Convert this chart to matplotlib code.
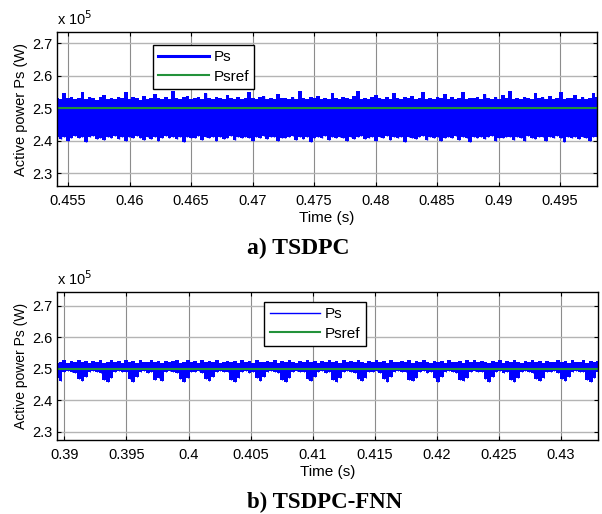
import numpy as np
import matplotlib
matplotlib.use("Agg")
import matplotlib.pyplot as plt

plt.rcParams['font.family'] = ['Liberation Sans', 'DejaVu Sans']

# ---- data (units of 1e5 W) ----
psref_a = 2.50
hi_a = [2.532, 2.528, 2.545, 2.530, 2.533, 2.527, 2.531, 2.548, 2.529, 2.534,
        2.530, 2.526, 2.533, 2.540, 2.529, 2.532, 2.527, 2.535, 2.531, 2.550,
        2.528, 2.533, 2.530, 2.526, 2.537, 2.529, 2.532, 2.544, 2.530, 2.527,
        2.534, 2.529, 2.552, 2.531, 2.528, 2.533, 2.538, 2.527, 2.530, 2.535,
        2.529, 2.546, 2.531, 2.527, 2.533, 2.530, 2.528, 2.541, 2.532, 2.529,
        2.534, 2.527, 2.531, 2.549, 2.530, 2.528, 2.533, 2.536, 2.529, 2.531,
        2.527, 2.543, 2.532, 2.530, 2.528, 2.534, 2.529, 2.553, 2.531, 2.527,
        2.533, 2.530, 2.538, 2.528, 2.532, 2.529, 2.545, 2.531, 2.527, 2.534,
        2.530, 2.528, 2.536, 2.551, 2.529, 2.532, 2.527, 2.533, 2.540, 2.530,
        2.528, 2.534, 2.529, 2.547, 2.531, 2.527, 2.533, 2.530, 2.537, 2.528,
        2.532, 2.550, 2.529, 2.531, 2.527, 2.534, 2.530, 2.542, 2.528, 2.533,
        2.529, 2.531, 2.548, 2.527, 2.532, 2.530, 2.535, 2.528, 2.544, 2.531,
        2.529, 2.533, 2.527, 2.539, 2.530, 2.552, 2.528, 2.532, 2.529, 2.534,
        2.531, 2.527, 2.546, 2.530, 2.533, 2.528, 2.536, 2.529, 2.531, 2.549,
        2.527, 2.532, 2.530, 2.541, 2.528, 2.534, 2.529, 2.531, 2.545, 2.533]
lo_a = [2.410, 2.405, 2.412, 2.398, 2.409, 2.414, 2.407, 2.411, 2.396, 2.410,
        2.413, 2.406, 2.409, 2.401, 2.412, 2.408, 2.415, 2.404, 2.410, 2.397,
        2.411, 2.407, 2.413, 2.409, 2.402, 2.410, 2.406, 2.412, 2.399, 2.409,
        2.414, 2.408, 2.411, 2.404, 2.410, 2.396, 2.412, 2.407, 2.409, 2.413,
        2.403, 2.410, 2.408, 2.412, 2.398, 2.411, 2.406, 2.409, 2.414, 2.402,
        2.410, 2.407, 2.412, 2.409, 2.397, 2.411, 2.408, 2.413, 2.405, 2.410,
        2.412, 2.399, 2.409, 2.407, 2.411, 2.414, 2.403, 2.410, 2.406, 2.412,
        2.396, 2.409, 2.411, 2.408, 2.413, 2.401, 2.410, 2.407, 2.412, 2.409,
        2.398, 2.411, 2.406, 2.410, 2.414, 2.404, 2.409, 2.412, 2.397, 2.410,
        2.408, 2.413, 2.402, 2.411, 2.407, 2.410, 2.395, 2.412, 2.409, 2.406,
        2.411, 2.414, 2.403, 2.410, 2.408, 2.412, 2.399, 2.409, 2.411, 2.407,
        2.413, 2.401, 2.410, 2.408, 2.396, 2.412, 2.409, 2.411, 2.405, 2.410,
        2.413, 2.398, 2.409, 2.407, 2.412, 2.410, 2.403, 2.411, 2.408, 2.397,
        2.413, 2.409, 2.406, 2.411, 2.412, 2.400, 2.410, 2.407, 2.414, 2.409,
        2.396, 2.411, 2.408, 2.412, 2.404, 2.410, 2.409, 2.398, 2.412, 2.410]

psref_b = 2.50
hi_b = [2.518, 2.522, 2.526, 2.519, 2.524, 2.521, 2.527, 2.520, 2.523, 2.517,
        2.525, 2.521, 2.528, 2.519, 2.522, 2.526, 2.520, 2.524, 2.518, 2.527,
        2.521, 2.523, 2.519, 2.526, 2.522, 2.520, 2.528, 2.521, 2.524, 2.518,
        2.525, 2.520, 2.523, 2.527, 2.519, 2.522, 2.526, 2.521, 2.524, 2.518,
        2.527, 2.520, 2.523, 2.521, 2.528, 2.519, 2.522, 2.525, 2.520, 2.524,
        2.518, 2.526, 2.521, 2.523, 2.519, 2.527, 2.522, 2.520, 2.525, 2.521,
        2.528, 2.519, 2.523, 2.520, 2.526, 2.522, 2.518, 2.524, 2.521, 2.527,
        2.520, 2.523, 2.519, 2.525, 2.522, 2.528, 2.520, 2.524, 2.518, 2.526,
        2.521, 2.523, 2.520, 2.527, 2.522, 2.519, 2.525, 2.521, 2.528, 2.520,
        2.523, 2.518, 2.526, 2.522, 2.520, 2.524, 2.521, 2.527, 2.519, 2.523,
        2.520, 2.528, 2.522, 2.519, 2.525, 2.521, 2.524, 2.518, 2.527, 2.522,
        2.520, 2.523, 2.519, 2.526, 2.521, 2.528, 2.520, 2.524, 2.522, 2.518,
        2.525, 2.521, 2.527, 2.519, 2.523, 2.520, 2.526, 2.522, 2.518, 2.524,
        2.521, 2.528, 2.520, 2.523, 2.519, 2.525, 2.522, 2.520, 2.527, 2.521,
        2.524, 2.518, 2.526, 2.522, 2.520, 2.528, 2.519, 2.523, 2.521, 2.525]
lo_b = [2.470, 2.462, 2.488, 2.492, 2.490, 2.486, 2.468, 2.460, 2.473, 2.489,
        2.493, 2.491, 2.487, 2.465, 2.459, 2.471, 2.490, 2.492, 2.488, 2.491,
        2.467, 2.458, 2.475, 2.489, 2.493, 2.486, 2.490, 2.463, 2.470, 2.461,
        2.488, 2.492, 2.490, 2.487, 2.466, 2.459, 2.472, 2.491, 2.489, 2.493,
        2.485, 2.468, 2.461, 2.474, 2.490, 2.492, 2.488, 2.491, 2.464, 2.457,
        2.470, 2.489, 2.493, 2.487, 2.490, 2.469, 2.460, 2.473, 2.488, 2.492,
        2.491, 2.486, 2.465, 2.458, 2.471, 2.490, 2.493, 2.488, 2.491, 2.467,
        2.462, 2.475, 2.489, 2.492, 2.486, 2.490, 2.463, 2.459, 2.470, 2.488,
        2.493, 2.490, 2.487, 2.466, 2.461, 2.472, 2.491, 2.489, 2.492, 2.485,
        2.468, 2.458, 2.474, 2.490, 2.493, 2.488, 2.491, 2.464, 2.460, 2.470,
        2.489, 2.492, 2.487, 2.490, 2.469, 2.457, 2.473, 2.488, 2.493, 2.491,
        2.486, 2.465, 2.461, 2.471, 2.490, 2.492, 2.488, 2.491, 2.467, 2.459,
        2.475, 2.489, 2.493, 2.486, 2.490, 2.463, 2.458, 2.470, 2.488, 2.492,
        2.490, 2.487, 2.466, 2.460, 2.472, 2.491, 2.489, 2.493, 2.485, 2.468,
        2.461, 2.474, 2.490, 2.492, 2.488, 2.491, 2.464, 2.459, 2.470, 2.489]

xlim_a = (0.4541, 0.4980)
xticks_a = [0.455, 0.46, 0.465, 0.47, 0.475, 0.48, 0.485, 0.49, 0.495]
xlim_b = (0.3894, 0.4330)
xticks_b = [0.39, 0.395, 0.4, 0.405, 0.41, 0.415, 0.42, 0.425, 0.43]
yticks = [2.3, 2.4, 2.5, 2.6, 2.7]
titles = ["a) TSDPC", "b) TSDPC-FNN"]

BLUE = '#0000ff'
GREEN = '#23923a'

fig = plt.figure(figsize=(6.02, 5.14), dpi=100)

panels = [
    dict(pos=[57 / 602, 1 - 186 / 514, 540 / 602, 154 / 514], hi=hi_a, lo=lo_a, ref=psref_a,
         xl=xlim_a, xt=xticks_a, yl=(2.26, 2.734), lw=1.0, leglw=2.2, leg=(0.178, 0.916),
         ylfs=10.5),
    dict(pos=[57 / 602, 1 - 440 / 514, 541 / 602, 148.3 / 514], hi=hi_b, lo=lo_b, ref=psref_b,
         xl=xlim_b, xt=xticks_b, yl=(2.274, 2.744), lw=0.7, leglw=1.0, leg=(0.383, 0.930),
         ylfs=10),
]

for p in panels:
    ax = fig.add_axes(p['pos'])
    xl = p['xl']
    t = np.linspace(xl[0], xl[1], len(p['hi']))
    ax.fill_between(t, p['lo'], p['hi'], step='mid', color=BLUE, lw=0)
    ax.vlines(t, p['lo'], p['hi'], color=BLUE, lw=p['lw'])
    ax.plot([], [], color=BLUE, lw=p['leglw'], label='Ps')
    ax.axhline(p['ref'], color=GREEN, lw=1.5, label='Psref')
    ax.set_xlim(*xl)
    ax.set_ylim(*p['yl'])
    ax.set_xticks(p['xt'])
    ax.set_xticklabels([f"{v:g}" for v in p['xt']])
    ax.set_yticks(yticks)
    ax.set_yticklabels([f"{v:g}" for v in yticks])
    ax.grid(True, axis='y', color='#b4b4b4', lw=1.0)
    ax.grid(True, axis='x', color='#8c8c8c', lw=0.8)
    ax.set_axisbelow(True)
    ax.tick_params(direction='in', top=True, right=True, labelsize=10.5, length=3, width=0.8)
    ax.tick_params(axis='x', pad=6)
    for s in ax.spines.values():
        s.set_linewidth(1.0)
    ax.set_ylabel('Active power Ps (W)', fontsize=p['ylfs'], labelpad=3)
    ax.set_xlabel('Time (s)', fontsize=11, labelpad=2)
    ax.text(0.0, 1.025, r'x 10$^5$', transform=ax.transAxes, fontsize=10.5, ha='left',
            va='bottom')
    leg = ax.legend(loc='upper left', bbox_to_anchor=p['leg'], fontsize=11,
                    frameon=True, fancybox=False, edgecolor='black', framealpha=1,
                    borderpad=0.35, handlelength=3.3, handletextpad=0.3, labelspacing=0.35,
                    borderaxespad=0)
    leg.get_frame().set_linewidth(1.0)

fig.text(247 / 602, 1 - 254 / 514, titles[0], ha='left', va='baseline', fontsize=17,
         fontweight='bold', family='Liberation Serif')
fig.text(247 / 602, 1 - 508 / 514, titles[1], ha='left', va='baseline', fontsize=16.5,
         fontweight='bold', family='Liberation Serif')

fig.savefig('out.png', dpi=100)
